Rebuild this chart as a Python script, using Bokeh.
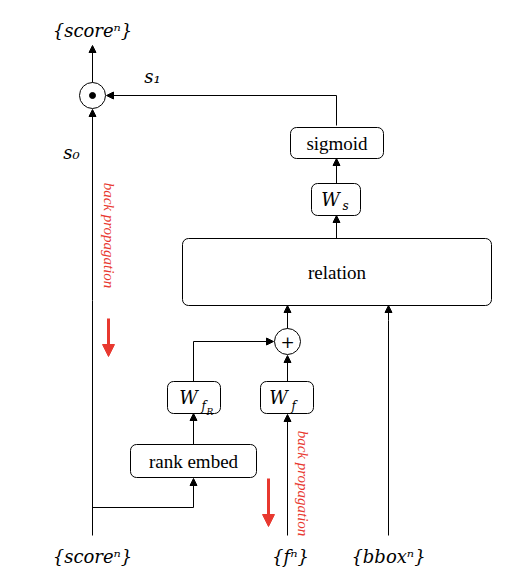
from bokeh.plotting import figure
from bokeh.models import Range1d, Arrow, NormalHead
from bokeh.embed import file_html
from bokeh.resources import INLINE
from bokeh.core.properties import value
import math

# boxes: label, left, right, top, bottom
box_labels = ["sigmoid", "", "relation", "", "", "rank embed"]
box_left = [290, 311, 182, 260, 167, 130]
box_right = [383, 360, 491, 313, 220, 256]
box_top = [127, 183, 238, 381, 381, 444]
box_bottom = [158, 215, 305, 413, 413, 477]

line_xs = [[336, 336], [92, 92], [193, 193], [92, 193], [287, 287], [388, 388]]
line_ys = [[125, 95], [535, 300], [381, 341], [507, 507], [535, 420], [535, 320]]
arr = [(92, 82, 92, 45), (336, 95, 106, 95), (92, 300, 92, 109), (336, 183, 336, 158),
       (336, 238, 336, 215), (287, 328, 287, 305), (388, 320, 388, 305),
       (287, 381, 287, 355), (193, 341, 273, 341), (193, 444, 193, 413),
       (193, 507, 193, 478), (287, 420, 287, 414)]
red_arr = [(108, 318, 108, 356), (268, 478, 268, 526)]

p = figure(width=500, height=570, x_range=Range1d(0, 500), y_range=Range1d(570, 0),
           output_backend="svg", toolbar_location=None, min_border=0)
p.axis.visible = False
p.grid.visible = False
p.outline_line_color = None
p.background_fill_color = "white"

p.quad(left=box_left, right=box_right, top=box_top, bottom=box_bottom,
       fill_color="white", line_color="black", line_width=1, border_radius=6)
p.multi_line(xs=line_xs, ys=line_ys, line_color="black", line_width=1)
for x0, y0, x1, y1 in arr:
    p.add_layout(Arrow(x_start=x0, y_start=y0, x_end=x1, y_end=y1, line_width=1,
                       end=NormalHead(size=7, fill_color="black", line_color="black")))
for x0, y0, x1, y1 in red_arr:
    p.add_layout(Arrow(x_start=x0, y_start=y0, x_end=x1, y_end=y1, line_width=3, line_color="#e8382f",
                       end=NormalHead(size=12, fill_color="#e8382f", line_color="#e8382f")))

p.circle(x=[92, 287], y=[95, 341], radius=13, fill_color="white", line_color="black", line_width=1)
p.circle(x=[92], y=[95], radius=3, fill_color="black", line_color="black")
p.text(x=[287], y=[341], text=["+"], text_align="center", text_baseline="middle",
       text_font=value("DejaVu Serif"), text_font_size="17px")

serif = value("Liberation Serif")
p.text(x=[(l + r) / 2 for l, r in zip(box_left, box_right)],
       y=[(t + b) / 2 for t, b in zip(box_top, box_bottom)], text=box_labels,
       text_align="center", text_baseline="middle", text_font=serif, text_font_size="19px")

mx = [92, 92, 290, 388, 152, 71, 330, 278, 188]
my = [30, 556, 556, 556, 76, 152, 199, 397, 397]
mt = ["{scoreⁿ}", "{scoreⁿ}", "{fⁿ}", "{bboxⁿ}", "s₁", "s₀", "W", "W", "W"]
p.text(x=mx, y=my, text=mt, text_align="center", text_baseline="middle",
       text_font=value("DejaVu Serif"), text_font_style="italic", text_font_size="18px")
p.text(x=[342, 291, 201, 206], y=[205, 405, 405, 411], text=["s", "f", "f", "R"],
       text_align="left", text_baseline="middle",
       text_font=value("DejaVu Serif"), text_font_style="italic", text_font_size=["12px", "12px", "12px", "9px"])

p.text(x=[108, 302], y=[235, 483], text=["back propagation", "back propagation"], angle=-math.pi / 2,
       text_align="center", text_baseline="middle", text_color="#e8382f",
       text_font=serif, text_font_style="italic", text_font_size="15px")

open("out.html", "w").write(file_html(p, INLINE))
